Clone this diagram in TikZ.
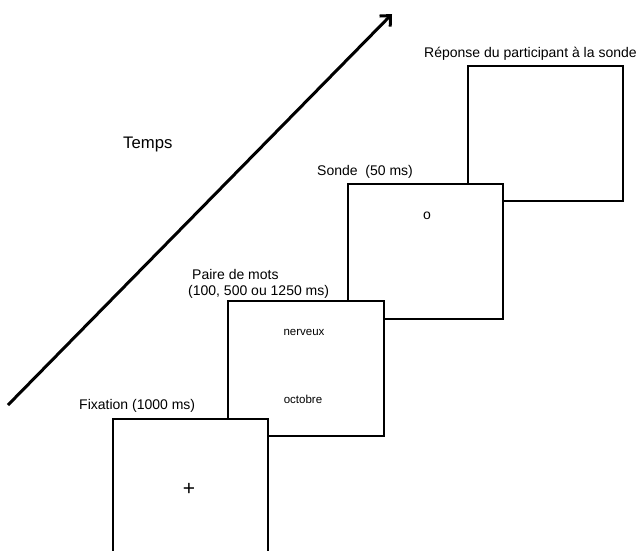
\documentclass[tikz,border=0pt]{standalone}
\usepackage{fontspec}
\setmainfont{Liberation Sans}
\usetikzlibrary{arrows.meta}
\begin{document}
\begin{tikzpicture}[x=1pt,y=-1pt,
  screen/.style={draw=black,fill=white,line width=1.5pt,inner sep=0pt,anchor=north west,minimum width=155pt,minimum height=135pt},
  lbl/.style={inner sep=0pt,anchor=base west,font=\fontsize{14}{16}\selectfont},
  small/.style={inner sep=0pt,anchor=base,font=\fontsize{11.5}{13}\selectfont}]
\useasboundingbox (0,0) rectangle (639,550);
\clip (0,0) rectangle (639,550);
% arrow
\coordinate (a0) at (8,405);
\coordinate (a1) at (392,14);
\draw[line width=3pt,-{Straight Barb[length=8pt,width=15pt]}] (a0) -- (a1);
\node[inner sep=0pt,anchor=base west,font=\fontsize{16.7}{19}\selectfont] (temps) at (123,148) {Temps};
% screens (back to front)
\node[screen] (s4) at (467,65) {};
\node[screen] (s3) at (347,183) {};
\node[screen,minimum width=156pt] (s2) at (227,300) {};
\node[screen] (s1) at (112,418) {};
% labels
\node[lbl] (l4) at (424,57) {Réponse du participant à la sonde};
\node[lbl] (l3) at (317,175) {Sonde\ \ (50 ms)};
\node[lbl] (l2a) at (192,279) {Paire de mots};
\node[lbl] (l2b) at (188,295) {(100, 500 ou 1250 ms)};
\node[lbl] (l1) at (79,409) {Fixation (1000 ms)};
% contents
\node[small] (w1) at (304,335) {nerveux};
\node[small] (w2) at (303,403) {octobre};
\node[inner sep=0pt,font=\fontsize{21}{23}\selectfont] (plus) at (189,489) {+};
\node[inner sep=0pt,font=\fontsize{14}{16}\selectfont] (probe) at (427,216) {o};
\end{tikzpicture}
\end{document}
